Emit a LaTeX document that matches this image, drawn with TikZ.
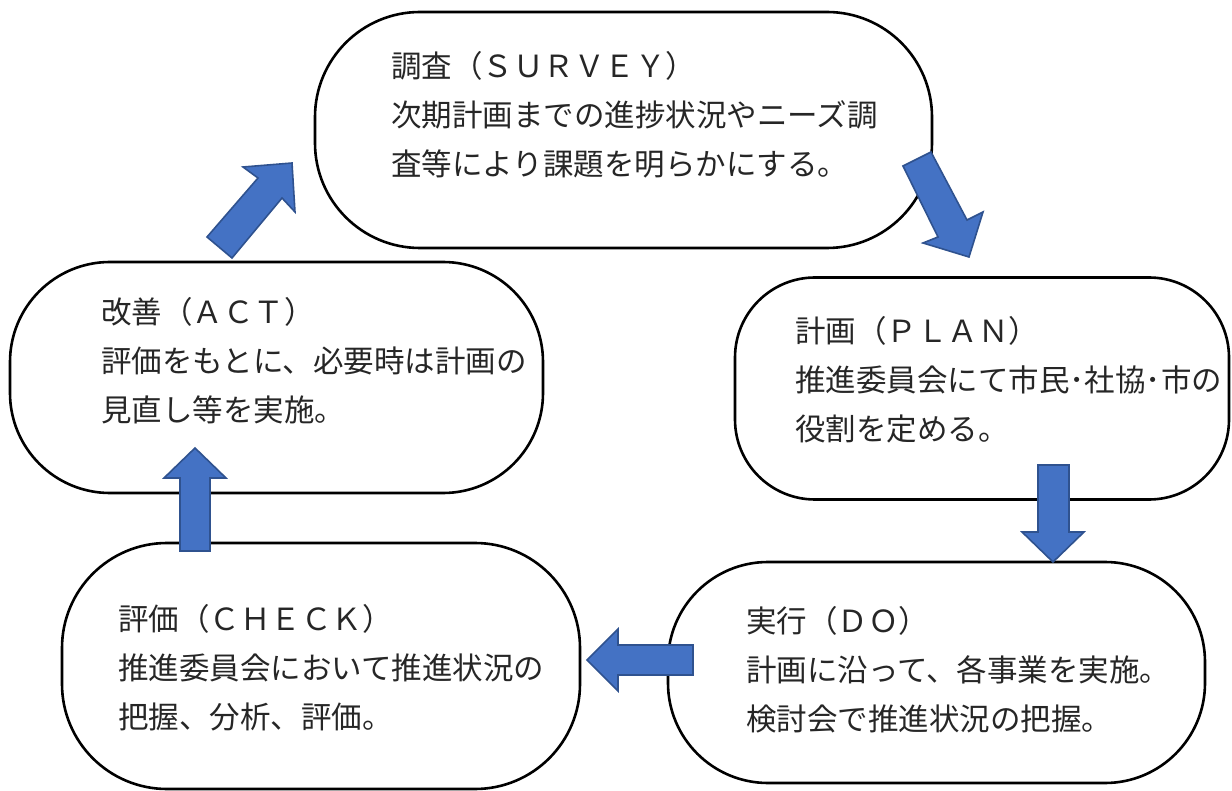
\documentclass[tikz,border=0pt]{standalone}
\usepackage{fontspec}
\setmainfont{Noto Sans CJK JP}
\definecolor{txt}{HTML}{262626}
\definecolor{arrfill}{HTML}{4472C4}
\definecolor{arrline}{HTML}{2F528F}
\tikzset{
  stadium/.style={draw=black, line width=2.6pt, fill=white, rectangle, inner sep=0pt},
  label/.style={anchor=west, align=left, inner sep=0pt, text=txt, font=\fontsize{30.5}{49}\selectfont},
  blockarrow/.style={fill=arrfill, draw=arrline, line width=1.6pt, line join=miter}
}
\begin{document}
\begin{tikzpicture}[x=1pt,y=-1pt]
\useasboundingbox (0,0) rectangle (1232,791);
% boxes
\node[stadium, rounded corners=105pt, minimum width=617pt, minimum height=236pt] (survey) at (623.5,130) {};
\node[stadium, rounded corners=80pt, minimum width=494pt, minimum height=222pt] (plan) at (982,388.5) {};
\node[stadium, rounded corners=100pt, minimum width=533pt, minimum height=231pt] (act) at (276.5,377.5) {};
\node[stadium, rounded corners=100pt, minimum width=537pt, minimum height=221pt] (do) at (936.5,672.5) {};
\node[stadium, rounded corners=105pt, minimum width=518pt, minimum height=246pt] (check) at (321,666) {};
% texts
\node[label] (tsurvey) at (391,115) {調査（ＳＵＲＶＥＹ）\\次期計画までの進捗状況やニーズ調\\査等により課題を明らかにする。};
\node[label] (tplan) at (795,380) {計画（ＰＬＡＮ）\\推進委員会にて市民･社協･市の\\役割を定める。};
\node[label] (tact) at (101,361) {改善（ＡＣＴ）\\評価をもとに、必要時は計画の\\見直し等を実施。};
\node[label] (tdo) at (746,670) {実行（ＤＯ）\\計画に沿って、各事業を実施。\\検討会で推進状況の把握。};
\node[label] (tcheck) at (118,668) {評価（ＣＨＥＣＫ）\\推進委員会において推進状況の\\把握、分析、評価。};
% block arrows
\draw[blockarrow] (207,237) -- (258,178) -- (243,167) -- (292,163) -- (295,212) -- (282,198) -- (232,258) -- cycle;
\draw[blockarrow] (903,166) -- (938,237) -- (923,243) -- (969,257) -- (983,212) -- (967,220) -- (931,152) -- cycle;
\draw[blockarrow] (1038,465) -- (1038,532) -- (1022,532) -- (1053,562) -- (1084,532) -- (1069,532) -- (1069,465) -- cycle;
\draw[blockarrow] (693,645) -- (618,645) -- (618,629) -- (587,660) -- (618,691) -- (618,675) -- (693,675) -- cycle;
\draw[blockarrow] (180,551) -- (180,478) -- (164,478) -- (195,448) -- (226,478) -- (210,478) -- (210,551) -- cycle;
\end{tikzpicture}
\end{document}
